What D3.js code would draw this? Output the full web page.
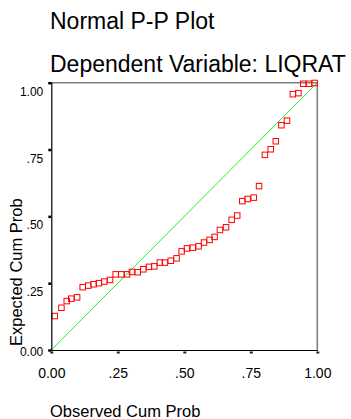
<!DOCTYPE html>
<html>
<head>
<meta charset="utf-8">
<script src="https://cdn.jsdelivr.net/npm/d3@7"></script>
<style>
  body { margin: 0; background: #fff; }
  svg { display: block; font-family: "Liberation Sans", Arial, sans-serif; }
</style>
</head>
<body>
<svg id="chart" width="351" height="419"></svg>
<script>
    // observed cumulative probability (x) and expected cumulative probability (y)
    var observed = [
      0.013, 0.038, 0.058, 0.075, 0.097, 0.118, 0.139, 0.159, 0.179, 0.199,
      0.221, 0.242, 0.263, 0.285, 0.303, 0.325, 0.346, 0.367, 0.387, 0.408,
      0.427, 0.449, 0.471, 0.490, 0.510, 0.532, 0.554, 0.574, 0.595, 0.614,
      0.634, 0.657, 0.678, 0.699, 0.718, 0.738, 0.761, 0.781, 0.803, 0.825,
      0.844, 0.865, 0.886, 0.908, 0.929, 0.947, 0.969, 0.990
    ];
    var expected = [
      0.127, 0.158, 0.183, 0.192, 0.197, 0.235, 0.241, 0.246, 0.250, 0.256,
      0.262, 0.283, 0.283, 0.283, 0.292, 0.291, 0.302, 0.311, 0.313, 0.327,
      0.327, 0.334, 0.343, 0.369, 0.380, 0.383, 0.388, 0.402, 0.412, 0.423,
      0.449, 0.459, 0.487, 0.503, 0.557, 0.565, 0.570, 0.613, 0.730, 0.751,
      0.781, 0.841, 0.858, 0.957, 0.961, 0.996, 0.996, 0.999
    ];
    var tickValues = [0, 0.25, 0.5, 0.75, 1];
    var titleLines = ["Normal P-P Plot", "Dependent Variable: LIQRAT"];

    var svg = d3.select("#chart");

    var x = d3.scaleLinear().domain([0, 1]).range([51.3, 317.3]);
    var y = d3.scaleLinear().domain([0, 1]).range([350, 82.7]);

    function fmt(d) {
      var s = d3.format(".2f")(d);
      return d === 0 ? s : s.replace(/^0/, "");
    }

    // titles
    svg.selectAll("text.title")
      .data(titleLines)
      .enter().append("text")
      .attr("class", "title")
      .attr("x", 50)
      .attr("y", function(d, i) { return i === 0 ? 29 : 72; })
      .style("font-size", "23px")
      .text(function(d) { return d; });

    // frame: grey top + right
    svg.append("path")
      .attr("d", "M" + x(0) + "," + y(1) + "H" + x(1) + "V" + y(0))
      .attr("fill", "none")
      .attr("stroke", "#808080")
      .attr("stroke-width", 1.6);

    // reference diagonal
    svg.append("line")
      .attr("x1", x(0)).attr("y1", y(0))
      .attr("x2", x(1)).attr("y2", y(1))
      .attr("stroke", "#22f022")
      .attr("stroke-width", 1);

    // points
    svg.append("g")
      .selectAll("rect")
      .data(observed)
      .enter().append("rect")
      .attr("x", function(d) { return x(d) - 2.75; })
      .attr("y", function(d, i) { return y(expected[i]) - 2.75; })
      .attr("width", 5.5)
      .attr("height", 5.5)
      .attr("fill", "none")
      .attr("stroke", "#ff0000")
      .attr("stroke-width", 1);

    // y axis
    var yAxis = svg.append("g")
      .attr("transform", "translate(" + x(0) + ",0)")
      .call(d3.axisLeft(y).tickValues(tickValues).tickFormat(fmt).tickSize(3).tickPadding(5));
    yAxis.select(".domain").attr("stroke", "#000").attr("stroke-width", 1.2);
    yAxis.selectAll(".tick line").attr("stroke", "#000").attr("stroke-width", 2.5);
    yAxis.selectAll(".tick text")
      .attr("fill", "#000")
      .style("font-size", "12px")
      .attr("dy", function(d) { return d === 0 ? "0.45em" : "1.05em"; });

    // x axis
    var xAxis = svg.append("g")
      .attr("transform", "translate(0," + y(0) + ")")
      .call(d3.axisBottom(x).tickValues(tickValues).tickFormat(fmt).tickSize(0));
    xAxis.select(".domain").attr("stroke", "#000").attr("stroke-width", 1.2);
    xAxis.selectAll(".tick line")
      .attr("y1", 1.5).attr("y2", 3.5)
      .attr("stroke", "#222").attr("stroke-width", 3);
    xAxis.selectAll(".tick text")
      .attr("fill", "#000")
      .attr("y", 28).attr("dy", 0)
      .style("font-size", "14px");

    // axis titles
    svg.append("text")
      .attr("x", 50)
      .attr("y", 417)
      .style("font-size", "16.5px")
      .text("Observed Cum Prob");

    svg.append("text")
      .attr("transform", "translate(22,346) rotate(-90)")
      .style("font-size", "16.5px")
      .text("Expected Cum Prob");
</script>
</body>
</html>
